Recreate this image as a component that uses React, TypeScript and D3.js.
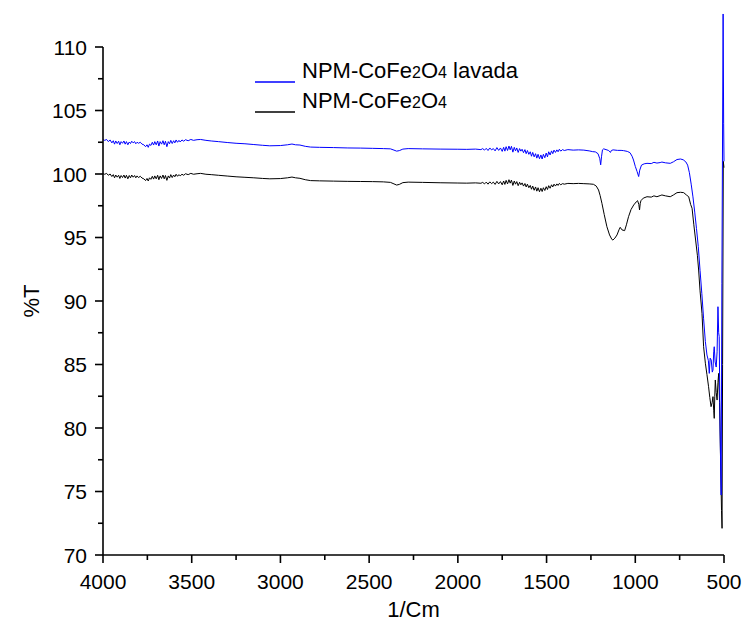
import React from "react";
import * as d3 from "d3";

// FTIR transmittance spectra, wavenumber (cm^-1) vs %T
const lavadaWn = [
  4000, 3990, 3980, 3970, 3960, 3950, 3942, 3935, 3928, 3920, 3912, 3905, 3898, 3890, 3882, 3875, 3868, 3860,
  3852, 3845, 3838, 3830, 3822, 3815, 3808, 3800, 3790, 3780, 3770, 3760, 3752, 3745, 3738, 3730, 3722, 3715,
  3708, 3700, 3692, 3685, 3678, 3670, 3662, 3655, 3648, 3640, 3632, 3625, 3618, 3610, 3602, 3595, 3588, 3580,
  3572, 3565, 3555, 3545, 3535, 3520, 3505, 3490, 3470, 3450, 3420, 3390, 3350, 3300, 3250, 3200, 3150, 3100,
  3060, 3000, 2960, 2935, 2915, 2890, 2860, 2830, 2780, 2700, 2620, 2550, 2480, 2420, 2380, 2360, 2345, 2330,
  2310, 2280, 2200, 2100, 2000, 1950, 1900, 1870, 1860, 1850, 1840, 1830, 1820, 1810, 1800, 1790, 1780, 1770,
  1760, 1750, 1742, 1735, 1728, 1720, 1712, 1705, 1698, 1690, 1682, 1675, 1668, 1660, 1652, 1645, 1638, 1630,
  1622, 1615, 1608, 1600, 1592, 1585, 1578, 1570, 1562, 1555, 1548, 1540, 1532, 1525, 1518, 1510, 1502, 1495,
  1488, 1480, 1472, 1465, 1458, 1450, 1442, 1435, 1428, 1420, 1410, 1400, 1380, 1350, 1320, 1290, 1260, 1240,
  1225, 1210, 1200, 1195, 1190, 1185, 1178, 1165, 1150, 1140, 1135, 1125, 1100, 1080, 1066, 1045, 1030, 1018,
  1010, 1000, 990, 981, 975, 965, 950, 934, 910, 895, 878, 860, 850, 830, 803, 785, 765, 745, 730, 715, 705,
  695, 685, 675, 665, 655, 645, 635, 625, 615, 605, 596, 588, 583, 578, 572, 566, 562, 558, 555, 550, 544, 539,
  534, 530, 527, 522, 516, 512, 505, 502, 500,
];
const lavadaT = [
  102.7, 102.65, 102.72, 102.55, 102.68, 102.45, 102.62, 102.35, 102.6, 102.4, 102.58, 102.3, 102.55, 102.42,
  102.6, 102.35, 102.55, 102.3, 102.52, 102.4, 102.58, 102.45, 102.55, 102.38, 102.5, 102.42, 102.5, 102.35,
  102.3, 102.15, 102.3, 102.1, 102.35, 102.25, 102.5, 102.28, 102.55, 102.3, 102.6, 102.2, 102.55, 102.35,
  102.62, 102.3, 102.58, 102.15, 102.55, 102.38, 102.65, 102.4, 102.62, 102.45, 102.68, 102.5, 102.65, 102.52,
  102.68, 102.58, 102.7, 102.62, 102.72, 102.65, 102.7, 102.72, 102.65, 102.6, 102.55, 102.48, 102.42, 102.38,
  102.32, 102.26, 102.22, 102.24, 102.3, 102.36, 102.3, 102.28, 102.18, 102.12, 102.1, 102.08, 102.05, 102.04,
  102.02, 102.0, 101.98, 101.88, 101.8, 101.84, 101.96, 102.0, 101.98, 101.96, 101.95, 101.94, 101.96, 101.92,
  102.0, 101.88, 102.02, 101.85, 102.05, 101.9, 102.0, 101.82, 102.08, 101.86, 102.05, 101.78, 102.1, 101.8,
  102.15, 101.85, 102.2, 101.9, 102.18, 101.72, 102.1, 101.82, 102.05, 101.7, 102.0, 101.8, 101.95, 101.68,
  101.92, 101.6, 101.85, 101.55, 101.75, 101.4, 101.7, 101.35, 101.6, 101.25, 101.55, 101.2, 101.5, 101.18,
  101.55, 101.28, 101.65, 101.35, 101.75, 101.5, 101.82, 101.6, 101.88, 101.7, 101.9, 101.75, 101.95, 101.8,
  101.92, 101.85, 101.92, 101.88, 101.9, 101.88, 101.82, 101.76, 101.74, 101.6, 101.2, 100.72, 101.4, 101.9,
  101.98, 101.92, 101.85, 101.7, 101.85, 101.9, 101.86, 101.86, 101.84, 101.78, 101.68, 101.4, 101.1, 100.6,
  100.2, 99.8, 100.3, 100.7, 100.8, 100.84, 100.82, 100.92, 100.86, 100.9, 100.94, 100.88, 100.84, 100.96,
  101.14, 101.18, 101.12, 100.95, 100.7, 100.1, 99.2, 98.2, 97.0, 95.7, 94.3, 92.4, 90.6, 88.6, 86.8, 85.75,
  85.3, 84.3, 85.5, 85.35, 84.4, 84.57, 86.0, 86.4, 85.2, 84.8, 86.0, 89.55, 87.5, 87.19, 79.84, 74.72, 91.4,
  112.6, 104.0, 101.0,
];

const baseWn = [
  4000, 3990, 3980, 3970, 3960, 3950, 3942, 3935, 3928, 3920, 3912, 3905, 3898, 3890, 3882, 3875, 3868, 3860,
  3852, 3845, 3838, 3830, 3822, 3815, 3808, 3800, 3790, 3780, 3770, 3760, 3752, 3745, 3738, 3730, 3722, 3715,
  3708, 3700, 3692, 3685, 3678, 3670, 3662, 3655, 3648, 3640, 3632, 3625, 3618, 3610, 3602, 3595, 3588, 3580,
  3572, 3565, 3555, 3545, 3535, 3520, 3505, 3490, 3470, 3450, 3420, 3390, 3350, 3300, 3250, 3200, 3150, 3100,
  3060, 3000, 2960, 2935, 2915, 2890, 2860, 2830, 2780, 2700, 2620, 2550, 2480, 2420, 2380, 2360, 2345, 2330,
  2310, 2280, 2200, 2100, 2000, 1950, 1900, 1870, 1860, 1850, 1840, 1830, 1820, 1810, 1800, 1790, 1780, 1770,
  1760, 1750, 1742, 1735, 1728, 1720, 1712, 1705, 1698, 1690, 1682, 1675, 1668, 1660, 1652, 1645, 1638, 1630,
  1622, 1615, 1608, 1600, 1592, 1585, 1578, 1570, 1562, 1555, 1548, 1540, 1532, 1525, 1518, 1510, 1502, 1495,
  1488, 1480, 1472, 1465, 1458, 1450, 1442, 1435, 1428, 1420, 1410, 1400, 1380, 1350, 1320, 1290, 1260, 1236,
  1220, 1207, 1198, 1188, 1175, 1160, 1145, 1132, 1126, 1115, 1103, 1092, 1085, 1075, 1060, 1050, 1038, 1024,
  1009, 995, 987, 980, 976, 972, 968, 955, 934, 910, 895, 878, 860, 850, 830, 803, 785, 765, 745, 727, 712, 699,
  688, 680, 670, 660, 650, 643, 635, 624, 615, 605, 596, 587, 580, 573, 567, 562, 558, 555, 552, 549, 544, 539,
  534, 530, 525, 520, 514, 511, 508, 504, 500,
];
const baseT = [
  100.02, 99.98, 100.05, 99.9, 100.0, 99.8, 99.95, 99.7, 99.92, 99.75, 99.9, 99.65, 99.88, 99.72, 99.92, 99.68,
  99.9, 99.62, 99.88, 99.7, 99.92, 99.75, 99.88, 99.7, 99.85, 99.72, 99.82, 99.68, 99.62, 99.48, 99.65, 99.45,
  99.7, 99.58, 99.82, 99.6, 99.85, 99.62, 99.9, 99.55, 99.85, 99.65, 99.92, 99.62, 99.88, 99.5, 99.85, 99.68,
  99.95, 99.72, 99.92, 99.78, 99.98, 99.82, 99.95, 99.85, 99.98, 99.9, 100.02, 99.95, 100.05, 99.98, 100.02,
  100.05, 99.98, 99.95, 99.9, 99.84, 99.78, 99.74, 99.7, 99.65, 99.62, 99.64, 99.7, 99.76, 99.7, 99.66, 99.55,
  99.48, 99.46, 99.44, 99.42, 99.41, 99.4, 99.38, 99.34, 99.22, 99.13, 99.18, 99.32, 99.36, 99.34, 99.31, 99.29,
  99.28, 99.3, 99.27, 99.34, 99.22, 99.36, 99.2, 99.38, 99.24, 99.36, 99.18, 99.42, 99.22, 99.4, 99.15, 99.45,
  99.18, 99.5, 99.22, 99.55, 99.28, 99.52, 99.1, 99.45, 99.2, 99.4, 99.08, 99.35, 99.15, 99.3, 99.05, 99.25,
  98.98, 99.2, 98.92, 99.1, 98.8, 99.05, 98.72, 98.98, 98.65, 98.92, 98.6, 98.88, 98.62, 98.92, 98.7, 99.0,
  98.78, 99.08, 98.88, 99.15, 98.98, 99.2, 99.05, 99.22, 99.1, 99.26, 99.15, 99.24, 99.2, 99.26, 99.24, 99.26,
  99.24, 99.22, 99.19, 99.05, 98.74, 98.3, 97.69, 96.8, 95.85, 95.2, 94.85, 94.8, 94.95, 95.2, 95.6, 95.8, 95.6,
  95.54, 96.0, 96.64, 97.2, 97.56, 97.8, 97.9, 97.6, 97.17, 97.7, 97.9, 98.1, 98.21, 98.18, 98.28, 98.21, 98.3,
  98.35, 98.28, 98.21, 98.35, 98.53, 98.56, 98.53, 98.35, 98.21, 97.6, 97.3, 96.0, 94.8, 93.6, 92.44, 90.8,
  89.03, 86.4, 85.1, 84.2, 83.25, 82.4, 81.68, 82.0, 82.47, 81.4, 80.76, 82.5, 83.78, 82.8, 82.2, 83.6, 84.3,
  82.0, 78.0, 73.5, 72.1, 85.0, 101.0, 100.5,
];

const xTicks = [4000, 3500, 3000, 2500, 2000, 1500, 1000, 500];
const xMinor = [3750, 3250, 2750, 2250, 1750, 1250, 750];
const yTicks = [70, 75, 80, 85, 90, 95, 100, 105, 110];
const yMinor = [72.5, 77.5, 82.5, 87.5, 92.5, 97.5, 102.5, 107.5];

const W = 744;
const H = 630;
const left = 103;
const right = 724;
const top = 47;
const bottom = 555;
const font = "'Liberation Sans', Arial, Helvetica, sans-serif";

function Formula({ suffix }: { suffix?: string }) {
  return (
    <>
      NPM-CoFe
      <tspan fontSize={16}>2</tspan>
      <tspan>O</tspan>
      <tspan fontSize={16}>4</tspan>
      {suffix ? <tspan>{suffix}</tspan> : null}
    </>
  );
}

export default function App() {
  const x = d3.scaleLinear().domain([4000, 500]).range([left, right]);
  const y = d3.scaleLinear().domain([70, 110]).range([bottom, top]);

  const line = d3
    .line<[number, number]>()
    .x((d) => x(d[0]))
    .y((d) => y(d[1]));

  const lavada = lavadaWn.map((w, i) => [w, lavadaT[i]] as [number, number]);
  const base = baseWn.map((w, i) => [w, baseT[i]] as [number, number]);

  return (
    <svg width={W} height={H} style={{ display: "block", position: "absolute", left: 0, top: 0 }} fontFamily={font}>
      <rect width={W} height={H} fill="#fff" />

      <path d={line(base) ?? ""} fill="none" stroke="#000" strokeWidth={1} />
      <path d={line(lavada) ?? ""} fill="none" stroke="#0000ff" strokeWidth={1} />

      {/* axes */}
      <line x1={left} x2={right} y1={bottom} y2={bottom} stroke="#000" strokeWidth={1.6} />
      <line x1={left} x2={left} y1={bottom} y2={top} stroke="#000" strokeWidth={1.6} />

      {xTicks.map((t) => (
        <g key={"x" + t}>
          <line x1={x(t)} x2={x(t)} y1={bottom} y2={bottom + 8} stroke="#000" strokeWidth={1.6} />
          <text x={x(t)} y={589} textAnchor="middle" fontSize={21} fill="#000">
            {t}
          </text>
        </g>
      ))}
      {xMinor.map((t) => (
        <line key={"xm" + t} x1={x(t)} x2={x(t)} y1={bottom} y2={bottom + 5} stroke="#000" strokeWidth={1.6} />
      ))}

      {yTicks.map((t) => (
        <g key={"y" + t}>
          <line x1={left - 8} x2={left} y1={y(t)} y2={y(t)} stroke="#000" strokeWidth={1.6} />
          <text x={87} y={y(t) + 7.5} textAnchor="end" fontSize={21} fill="#000">
            {t}
          </text>
        </g>
      ))}
      {yMinor.map((t) => (
        <line key={"ym" + t} x1={left - 5} x2={left} y1={y(t)} y2={y(t)} stroke="#000" strokeWidth={1.6} />
      ))}

      <text x={(left + right) / 2} y={617} textAnchor="middle" fontSize={22} fill="#000">
        1/Cm
      </text>
      <text
        transform={`translate(39, ${(top + bottom) / 2}) rotate(-90)`}
        textAnchor="middle"
        fontSize={22}
        fill="#000"
      >
        %T
      </text>

      {/* legend */}
      <line x1={255} x2={295} y1={82} y2={82} stroke="#0000ff" strokeWidth={1.3} />
      <text x={302} y={78} fontSize={22} fill="#000">
        <Formula suffix=" lavada" />
      </text>
      <line x1={255} x2={295} y1={112} y2={112} stroke="#000" strokeWidth={1.3} />
      <text x={302} y={108} fontSize={22} fill="#000">
        <Formula />
      </text>
    </svg>
  );
}
